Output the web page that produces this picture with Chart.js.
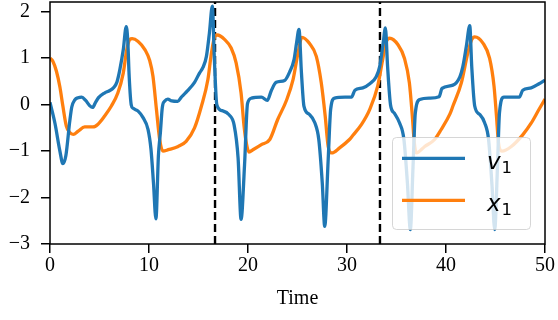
<!DOCTYPE html>
<html><head><meta charset="utf-8">
<script src="https://cdn.jsdelivr.net/npm/chart.js@4/dist/chart.umd.min.js"></script>
<style>html,body{margin:0;padding:0;background:#fff}</style>
</head><body>
<canvas id="c" width="558" height="320" style="display:block"></canvas>
<script>
// ---- data ----
const seriesNames = ['v', 'x'];
const seriesSubs = ['1', '1'];
const seriesColors = ['#1f77b4', '#ff7f0e'];

const timeV = [0,0.5,1.0,1.3,1.6,2.0,2.2,2.5,2.85,3.2,3.6,4.0,4.3,4.6,4.9,5.5,6.0,6.4,6.75,7.05,7.4,7.7,7.85,8.0,8.2,8.4,8.9,9.4,9.9,10.2,10.45,10.7,10.95,11.15,11.35,11.6,11.9,12.3,12.9,13.3,13.9,14.6,15.1,15.45,15.8,16.1,16.4,16.6,16.85,17.4,18.1,18.6,19.0,19.3,19.65,19.95,20.35,21.35,21.95,22.35,22.85,23.7,24.2,24.65,24.9,25.15,25.4,25.65,26.2,26.75,27.15,27.5,27.75,28.1,28.35,28.75,29.8,30.45,30.8,31.6,32.3,32.95,33.3,33.65,33.88,34.1,34.4,34.8,35.3,35.75,36.1,36.4,36.67,36.9,37.35,38.35,39.3,39.6,40.7,41.4,41.7,42.05,42.4,42.6,42.9,43.4,43.9,44.3,44.65,44.92,45.2,45.4,45.85,47.4,47.75,48.6,49.4,50];
const valuesV = [0.05,-0.4,-1.0,-1.27,-1.1,-0.35,-0.05,0.1,0.15,0.16,0.09,-0.02,-0.06,0.05,0.15,0.25,0.3,0.36,0.48,0.75,1.18,1.68,1.4,0.6,0.0,-0.08,-0.14,-0.28,-0.53,-0.96,-1.68,-2.46,-1.1,-0.6,-0.05,0.08,0.12,0.08,0.07,0.17,0.3,0.48,0.68,0.8,1.04,1.54,2.12,1.0,0.0,-0.13,-0.22,-0.44,-1.15,-2.47,-1.3,0.02,0.14,0.16,0.09,0.3,0.48,0.52,0.7,0.97,1.32,1.62,0.68,-0.03,-0.21,-0.39,-0.75,-1.68,-2.62,-1.18,-0.1,0.14,0.16,0.16,0.31,0.36,0.45,0.6,0.82,1.32,1.65,0.82,-0.01,-0.19,-0.39,-0.75,-1.68,-2.69,-1.33,-0.18,0.11,0.14,0.17,0.35,0.42,0.6,0.82,1.25,1.7,0.82,-0.03,-0.21,-0.39,-0.75,-1.75,-2.69,-1.33,-0.18,0.16,0.16,0.31,0.36,0.45,0.53];

const timeX = [0,0.3,0.65,1.0,1.3,1.65,2.0,2.35,2.85,3.5,4.35,4.85,5.5,6.2,6.85,7.4,7.75,8.05,8.3,8.9,9.6,10.07,10.4,10.75,11.08,11.4,11.95,12.95,13.75,14.6,15.3,15.95,16.3,16.65,16.9,17.65,18.3,18.8,19.3,19.6,19.85,20.1,20.5,21.35,22.2,23.0,23.9,24.55,25.05,25.45,26.2,26.9,27.4,27.8,28.1,28.45,29.25,30.25,30.6,31.45,32.3,33.1,33.6,33.98,34.3,35.15,35.8,36.3,36.6,36.8,37.0,37.85,38.85,39.5,40.4,40.7,41.55,42.2,42.6,42.9,43.75,44.4,44.85,45.1,45.3,45.65,46.6,47.75,48.6,49.4,50];
const valuesX = [1.0,0.93,0.72,0.38,-0.03,-0.46,-0.6,-0.64,-0.57,-0.48,-0.48,-0.42,-0.25,-0.03,0.25,0.68,1.18,1.4,1.42,1.36,1.18,0.95,0.61,-0.1,-0.75,-1.0,-0.97,-0.9,-0.79,-0.5,-0.03,0.54,1.1,1.47,1.5,1.4,1.22,0.9,0.25,-0.46,-0.85,-1.02,-0.97,-0.86,-0.75,-0.32,0.1,0.54,1.11,1.45,1.32,1.04,0.47,-0.25,-0.9,-1.04,-0.93,-0.75,-0.66,-0.43,-0.1,0.4,0.97,1.36,1.43,1.29,1.0,0.47,-0.25,-0.82,-1.04,-0.9,-0.75,-0.54,-0.2,-0.03,0.47,1.11,1.4,1.46,1.32,1.0,0.4,-0.25,-0.82,-1.0,-0.9,-0.65,-0.4,-0.1,0.12];

const xTicks = [0, 10, 20, 30, 40, 50];
const yTicks = [-3, -2, -1, 0, 1, 2];
const markerTimes = [16.67, 33.33];
const xLabel = 'Time';

// ---- chart ----
const toPts = (ts, vs) => ts.map((t, i) => ({x: t, y: vs[i]}));
const serif = '"Liberation Serif", "Times New Roman", serif';

const decor = {
  id: 'decor',
  beforeDatasetsDraw(chart) {
    const {ctx, chartArea: a, scales: {x}} = chart;
    ctx.save();
    ctx.strokeStyle = '#000';
    ctx.lineWidth = 2.4;
    ctx.setLineDash([8, 4]);
    markerTimes.forEach(t => {
      const px = x.getPixelForValue(t);
      ctx.beginPath(); ctx.moveTo(px, a.bottom); ctx.lineTo(px, a.top); ctx.stroke();
    });
    ctx.restore();
  },
  afterDatasetsDraw(chart) {
    const {ctx, chartArea: a} = chart;
    ctx.save();
    ctx.strokeStyle = '#000'; ctx.lineWidth = 1.5;
    ctx.strokeRect(a.left, a.top, a.right - a.left, a.bottom - a.top);
    ctx.restore();
  },
  afterDraw(chart) {
    const {ctx} = chart;
    ctx.save();
    const bx = 392.5, by = 137.5, bw = 138, bh = 92, r = 4;
    ctx.beginPath();
    ctx.roundRect(bx, by, bw, bh, r);
    ctx.fillStyle = 'rgba(255,255,255,0.8)';
    ctx.fill();
    ctx.strokeStyle = 'rgba(204,204,204,0.8)';
    ctx.lineWidth = 1;
    ctx.stroke();
    seriesNames.forEach((name, i) => {
      const y = 158.3 + i * 42;
      ctx.strokeStyle = seriesColors[i];
      ctx.lineWidth = 3.3;
      ctx.beginPath(); ctx.moveTo(402, y); ctx.lineTo(465, y); ctx.stroke();
      ctx.fillStyle = '#000';
      ctx.textBaseline = 'alphabetic';
      ctx.textAlign = 'left';
      ctx.font = 'italic 23px "DejaVu Sans"';
      const tx = 487;
      ctx.fillText(name, tx, y + 10.3);
      const w = ctx.measureText(name).width;
      ctx.font = '16.5px "DejaVu Sans"';
      ctx.fillText(seriesSubs[i], tx + w + 1, y + 15);
    });
    ctx.restore();
  }
};

const gridOpts = {drawOnChartArea: false, drawTicks: true, tickLength: 9, color: '#000', lineWidth: 1.5};

new Chart(document.getElementById('c'), {
  type: 'line',
  data: {
    datasets: [
      {label: seriesNames[0] + seriesSubs[0], data: toPts(timeV, valuesV), borderColor: seriesColors[0], borderWidth: 3.3, pointRadius: 0, cubicInterpolationMode: 'monotone', fill: false},
      {label: seriesNames[1] + seriesSubs[1], data: toPts(timeX, valuesX), borderColor: seriesColors[1], borderWidth: 3.3, pointRadius: 0, cubicInterpolationMode: 'monotone', fill: false}
    ]
  },
  options: {
    responsive: false, animation: false, devicePixelRatio: 1,
    layout: {padding: {top: 2, right: 13, left: 0, bottom: 0}},
    plugins: {legend: {display: false}, tooltip: {enabled: false}},
    scales: {
      x: {
        type: 'linear', min: 0, max: 50,
        afterBuildTicks(s) { s.ticks = xTicks.map(v => ({value: v})); },
        afterFit(s) { s.height = 76; s.paddingLeft = 0; s.paddingRight = 0; },
        grid: gridOpts, border: {display: false},
        ticks: {color: '#000', font: {family: serif, size: 20}, padding: 1, maxRotation: 0, autoSkip: false},
        title: {display: true, text: xLabel, color: '#000', font: {family: serif, size: 20}, padding: {top: 0, bottom: 9}}
      },
      y: {
        type: 'linear', min: -3, max: 2.21,
        afterBuildTicks(s) { s.ticks = yTicks.map(v => ({value: v})); },
        afterFit(s) { s.width = 50; s.paddingTop = 0; s.paddingBottom = 0; },
        grid: gridOpts, border: {display: false},
        ticks: {color: '#000', font: {family: serif, size: 20}, padding: 11,
          callback: v => v < 0 ? '\u2212' + Math.abs(v) : String(v)}
      }
    }
  },
  plugins: [decor]
});
</script>
</body></html>
